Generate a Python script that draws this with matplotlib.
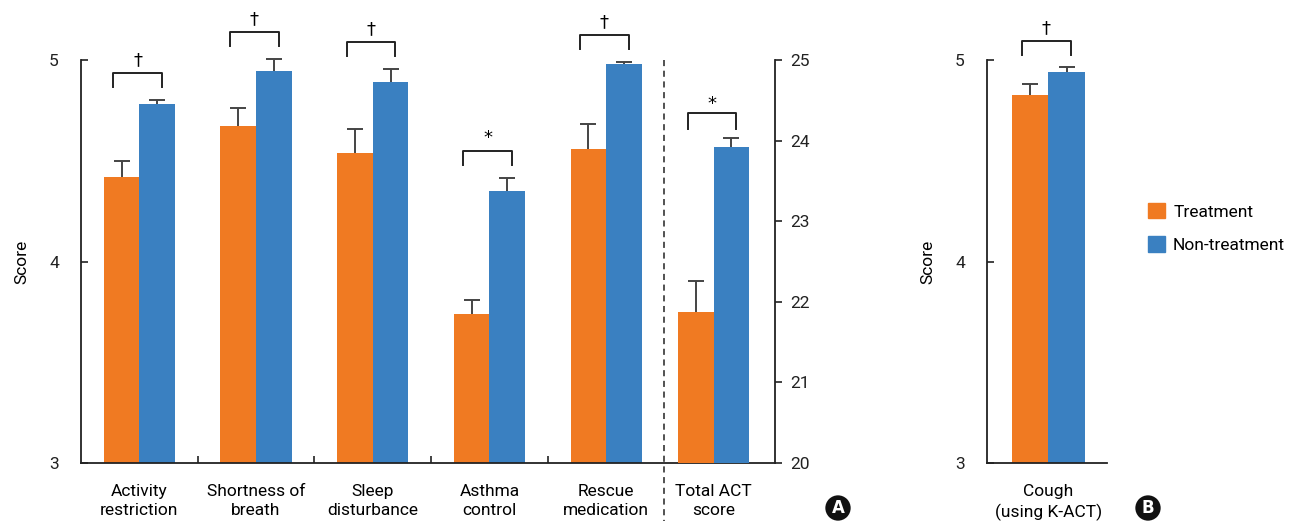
import matplotlib
matplotlib.use("Agg")
import matplotlib.pyplot as plt
import matplotlib.transforms as mtransforms
from matplotlib.patches import Patch

plt.rcParams['font.family'] = ['Roboto', 'DejaVu Sans']

# ---------------- data ----------------
categories = ["Activity\nrestriction", "Shortness of\nbreath", "Sleep\ndisturbance",
              "Asthma\ncontrol", "Rescue\nmedication"]
treat_vals = [4.42, 4.67, 4.54, 3.74, 4.56]
treat_err = [0.08, 0.09, 0.12, 0.07, 0.12]
non_vals = [4.78, 4.945, 4.89, 4.35, 4.98]
non_err = [0.02, 0.06, 0.065, 0.065, 0.01]
sig_marks = ["†", "†", "†", "*", "†"]

total_label = "Total ACT\nscore"
total_treat, total_treat_err = 21.87, 0.39
total_non, total_non_err = 23.92, 0.11
total_sig = "*"

cough_label = "Cough\n(using K-ACT)"
cough_treat, cough_treat_err = 4.826, 0.053
cough_non, cough_non_err = 4.94, 0.027
cough_sig = "†"

legend_labels = ["Treatment", "Non-treatment"]
# --------------------------------------

ORANGE = "#F07A22"
BLUE = "#3A80C1"
ERRC = "#444444"
FS = 12.5

W, H = 1296, 521
fig = plt.figure(figsize=(W / 100, H / 100), dpi=100)

def fx(px):
    return px / W

def fy(py):
    return 1 - py / H

axA = fig.add_axes([fx(81), fy(463), fx(775 - 81), fy(60) - fy(463)])
axB = fig.add_axes([fx(987), fy(463), fx(1107 - 987), fy(60) - fy(463)])

bw = 0.305
n = len(categories)
xs = list(range(n))
x_total = n - 0.08

def up_err(ax, x, v, e):
    ax.vlines(x, v, v + e, color=ERRC, lw=1.4, zorder=3)
    ax.plot([x], [v + e], marker='_', markersize=11, mew=1.4, color=ERRC,
            zorder=3, clip_on=False)

def bars(ax, x, t, te, nv, ne, base):
    ax.bar(x - bw / 2, t - base, bw, bottom=base, color=ORANGE, zorder=2)
    ax.bar(x + bw / 2, nv - base, bw, bottom=base, color=BLUE, zorder=2)
    up_err(ax, x - bw / 2, t, te)
    up_err(ax, x + bw / 2, nv, ne)

def bracket(ax, x, ybot, h, mark, markgap):
    x0 = x - bw / 2 - 0.07
    x1 = x + bw / 2 + 0.04
    ax.plot([x0, x0, x1, x1], [ybot, ybot + h, ybot + h, ybot], color="#222222",
            lw=1.4, clip_on=False, zorder=4)
    ax.text((x0 + x1) / 2, ybot + h + markgap, mark, ha='center', va='bottom',
            fontsize=13, clip_on=False, family=['DejaVu Sans'])

# Panel A
for i in range(n):
    bars(axA, xs[i], treat_vals[i], treat_err[i], non_vals[i], non_err[i], 3)
    top = max(non_vals[i] + non_err[i], treat_vals[i] + treat_err[i])
    bracket(axA, xs[i], top + 0.065, 0.07, sig_marks[i], 0.02)

axA.set_xlim(-0.5, n - 0.5 + 0.947)
axA.set_ylim(3, 5)
axA.set_yticks([3, 4, 5])
axA.set_yticklabels(["3", "4", "5"], fontsize=FS)
axA.tick_params(axis='y', direction='in', length=5, width=1.2, pad=16, colors="#222222")
axA.set_xticks(xs + [x_total])
axA.set_xticklabels(categories + [total_label], fontsize=FS, linespacing=1.38)
axA.tick_params(axis='x', length=0, pad=15)
axA.set_xticks([i + 0.5 for i in range(n - 1)], minor=True)
axA.tick_params(axis='x', which='minor', direction='in', length=5, width=1.2, color="#222222")
axA.spines['top'].set_visible(False)
for s in ['left', 'right', 'bottom']:
    axA.spines[s].set_linewidth(1.3)
    axA.spines[s].set_color("#222222")
axA.spines['right'].set_visible(False)
axA.set_ylabel("Score", fontsize=12.5, labelpad=14)

axR = axA.twinx()
axR.set_ylim(20, 25)
axR.set_yticks([20, 21, 22, 23, 24, 25])
axR.set_yticklabels(["20", "21", "22", "23", "24", "25"], fontsize=FS)
axR.tick_params(axis='y', direction='out', length=5, width=1.2, pad=6, colors="#222222")
for s in ['top', 'left', 'bottom']:
    axR.spines[s].set_visible(False)
axR.spines['right'].set_linewidth(1.3)
axR.spines['right'].set_color("#222222")
bars(axR, x_total, total_treat, total_treat_err, total_non, total_non_err, 20)
bracket(axR, x_total, total_non + total_non_err + 0.11, 0.2, total_sig, 0.0)

# dashed divider
trans = mtransforms.blended_transform_factory(axA.transData, axA.transAxes)
axA.plot([n - 0.5, n - 0.5], [1.0, -0.15], transform=trans, ls=(0, (4, 3)),
         color="#222222", lw=1.1, clip_on=False, zorder=1)

# Panel B
bars(axB, 0, cough_treat, cough_treat_err, cough_non, cough_non_err, 3)
bracket(axB, 0, cough_non + cough_non_err + 0.06, 0.065, cough_sig, 0.02)
axB.set_xlim(-0.51, 0.49)
axB.set_ylim(3, 5)
axB.set_yticks([3, 4, 5])
axB.set_yticklabels(["3", "4", "5"], fontsize=FS)
axB.tick_params(axis='y', direction='in', length=5, width=1.2, pad=16, colors="#222222")
axB.set_xticks([0])
axB.set_xticklabels([cough_label], fontsize=FS, linespacing=1.38)
axB.tick_params(axis='x', length=0, pad=15)
for s in ['top', 'right']:
    axB.spines[s].set_visible(False)
for s in ['left', 'bottom']:
    axB.spines[s].set_linewidth(1.3)
    axB.spines[s].set_color("#222222")
axB.set_ylabel("Score", fontsize=12.5, labelpad=14)

# legend
handles = [Patch(color=ORANGE), Patch(color=BLUE)]
fig.legend(handles, legend_labels, loc='upper left', bbox_to_anchor=(fx(1141), fy(196)),
           frameon=False, fontsize=12.5, handlelength=1.0, handleheight=1.0,
           handletextpad=0.45, labelspacing=0.95, borderaxespad=0)

# panel badges
for label, px, py in [("A", 838, 508), ("B", 1148, 508)]:
    fig.text(fx(px), fy(py), label, ha='center', va='center', color='white',
             fontsize=12, fontweight='bold', family=['DejaVu Sans'],
             bbox=dict(boxstyle='circle,pad=0.22', fc='#111111', ec='none'))

fig.savefig("out.png", dpi=100)
